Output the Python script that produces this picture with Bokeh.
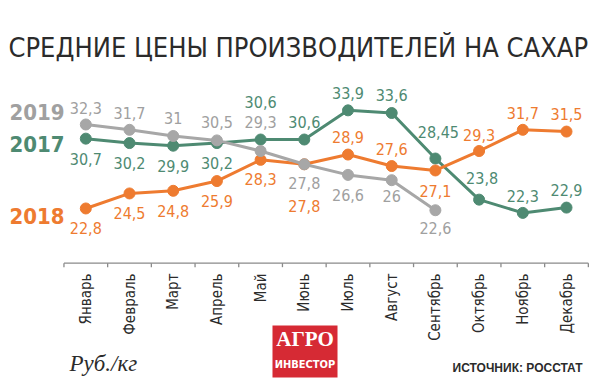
import math
from bokeh.plotting import figure
from bokeh.models import Range1d, Label, BoxAnnotation, ColumnDataSource
from bokeh.core.properties import value
from bokeh.embed import file_html
from bokeh.resources import INLINE

# ---------------- data ----------------
months = ["Январь", "Февраль", "Март", "Апрель", "Май", "Июнь",
          "Июль", "Август", "Сентябрь", "Октябрь", "Ноябрь", "Декабрь"]
prices_2017 = [30.7, 30.2, 29.9, 30.2, 30.6, 30.6, 33.9, 33.6, 28.45, 23.8, 22.3, 22.9]
prices_2018 = [22.8, 24.5, 24.8, 25.9, 28.3, 27.8, 28.9, 27.6, 27.1, 29.3, 31.7, 31.5]
prices_2019 = [32.3, 31.7, 31.0, 30.5, 29.3, 27.8, 26.6, 26.0, 22.6]
title_text = "СРЕДНИЕ ЦЕНЫ ПРОИЗВОДИТЕЛЕЙ НА САХАР"
unit_text = "Руб./кг"
source_text = "ИСТОЧНИК: РОССТАТ"

# ---------------- styling / layout ----------------
COND = "DejaVu Sans Condensed"
GREEN = "#4e8a72"
ORANGE = "#ee7b30"
GRAY = "#a7a7a7"
GRAY_TXT = "#a0a0a0"
DARK = "#2b2b2b"
BASE_SHIFT = 0.37  # em correction for the text baseline placement

# pixel offsets of value labels (baseline relative to point; negative = above)
off_2017 = [26, 26, 26, 26, -32, -12, -11, -12, -21, -16, -11, -12]
off_2018 = [25, 25, 26, 26, 25, 48, -12, -11, 26, -10, -11, -12]
off_2019 = [-11, -11, -12, -12, -23, 25, 26, 22, 24]
xoff_2017 = [0, 0, 0, 0, 0, 0, 0, 0, 3, 3, 0, 0]
LABEL_FS = 16

W, H = 600, 384
p = figure(width=W, height=H,
           x_range=Range1d(-1.952, 11.778), y_range=Range1d(2.888, 46.327),
           output_backend="svg", toolbar_location=None,
           x_axis_location=None, y_axis_location=None,
           min_border=0, outline_line_color=None,
           background_fill_color="white", border_fill_color="white")
p.xgrid.visible = False
p.ygrid.visible = False


def fmt(v):
    return f"{v:g}".replace(".", ",")


def series(vals, color, txt_color, offs, xoffs=None):
    idx = list(range(len(vals)))
    corr = BASE_SHIFT * LABEL_FS
    src = ColumnDataSource(dict(
        x=idx, y=vals, label=[fmt(v) for v in vals],
        dy=[o - corr for o in offs], dx=xoffs if xoffs else [0] * len(vals)))
    p.line("x", "y", source=src, line_color=color, line_width=3)
    p.scatter("x", "y", source=src, size=11, fill_color=color, line_color=color)
    return src, txt_color


srcs = [series(prices_2017, GREEN, GREEN, off_2017, xoff_2017),
        series(prices_2018, ORANGE, ORANGE, off_2018),
        series(prices_2019, GRAY, GRAY_TXT, off_2019)]
for src, col in srcs:
    p.text("x", "y", text="label", source=src, x_offset="dx", y_offset="dy",
           text_align="center", text_baseline="alphabetic",
           text_font=value(COND), text_font_size=f"{LABEL_FS}px", text_color=col)

# x axis (line with ticks between months)
axis_y = 16.61
tick_len = 0.45
ticks = [i - 0.5 for i in range(len(months) + 1)]
p.segment(x0=[ticks[0]], y0=[axis_y], x1=[ticks[-1]], y1=[axis_y],
          line_color="#8a8a8a", line_width=1.3)
p.segment(x0=ticks, y0=[axis_y] * len(ticks), x1=ticks,
          y1=[axis_y - tick_len] * len(ticks), line_color="#8a8a8a", line_width=1.3)
label_y = axis_y - 1.16
p.text(x=list(range(len(months))), y=[label_y] * len(months), text=months,
       angle=math.pi / 2, text_align="right", text_baseline="middle",
       text_font=value(COND), text_font_size="15px", text_color=DARK)


def sx(px):  # reference x -> screen x
    return px


def sy(py, fs):  # reference baseline y -> screen y (from bottom), corrected
    return H - py + BASE_SHIFT * fs


def label(text, x, base, fs, font, color, style="normal", align="left"):
    p.add_layout(Label(x=sx(x), y=sy(base, fs), x_units="screen", y_units="screen",
                       text=text, text_font=font, text_font_size=f"{fs}px",
                       text_font_style=style, text_color=color, text_align=align,
                       text_baseline="alphabetic"))


label(title_text, 8, 57, 27, COND, DARK)

for yr, col, base in [("2019", GRAY_TXT, 120), ("2017", GREEN, 152), ("2018", ORANGE, 224)]:
    label(yr, 9, base, 22, COND, col, style="bold")

label(unit_text, 69, 372, 23, "Liberation Serif", DARK, style="italic")
label(source_text, 582, 372, 12, "Liberation Sans", DARK, style="bold", align="right")

# logo
p.add_layout(BoxAnnotation(left=4.272, right=5.760, top=9.56, bottom=3.68,
                           fill_color="#d62a34", fill_alpha=1.0, line_color=None))
label("АГРО", 304.5, 346, 21, "Liberation Serif", "white", style="bold", align="center")
label("ИНВЕСТОР", 304.5, 368, 11, COND, "white", style="bold", align="center")

open("out.html", "w").write(file_html(p, INLINE))
